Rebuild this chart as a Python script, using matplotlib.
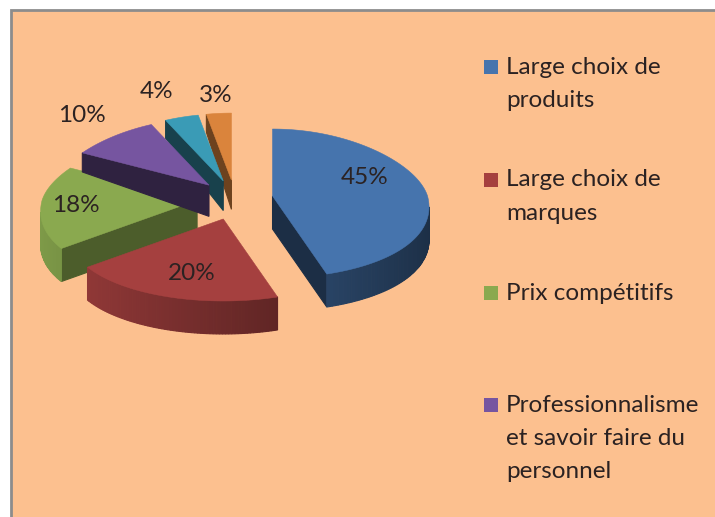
import numpy as np
import matplotlib
matplotlib.use('Agg')
import matplotlib.pyplot as plt
from matplotlib.colors import to_rgb
from matplotlib.patches import Rectangle

plt.rcParams['font.family'] = ['Lato', 'DejaVu Sans']

labels = ['Large choix de\nproduits', 'Large choix de\nmarques', 'Prix compétitifs',
          'Professionnalisme\net savoir faire du\npersonnel']
values = [45, 20, 18, 10, 4, 3]
pct_labels = ['45%', '20%', '18%', '10%', '4%', '3%']
colors = ['#4674AD', '#A5403F', '#8AA94F', '#7655A0', '#3A9BB6', '#DA843C']

bg = '#FCC08F'
text_col = '#2B2222'

# pie geometry, in pixels of the 715x517 picture
cx, cy = 235, 199
rx = 155
ry_front, ry_back = 82, 67
persp = 0.14
ex = 38
ey_front, ey_back = 21, 19
cut_shade = [0.40, 0.50, 0.55, 0.40, 0.42, 0.50]
draw_order = [2, 5, 4, 3, 1, 0]

pct_pos = [(365, 177), (192, 274), (76, 206), (82, 116), (157, 92), (216, 95)]
legend_y = [67, 180, 293, 405]

fig = plt.figure(figsize=(7.15, 5.17), dpi=100, facecolor='white')
ax = fig.add_axes([0, 0, 1, 1])
ax.set_xlim(0, 715)
ax.set_ylim(517, 0)
ax.axis('off')

ax.add_patch(Rectangle((11, 10), 720, 520, facecolor=bg, edgecolor='#8C8C8C', linewidth=2, zorder=0))


def depth(y):
    return np.interp(y, [150, 190], [18, 33])


def shade(col, f):
    return tuple(c * f for c in to_rgb(col))


def rim(theta, ox, oy):
    # point of the squashed circle, theta clockwise from the top
    ry = np.where(np.cos(theta) > 0, ry_back, ry_front)
    return ox + rx * np.sin(theta) * (1 - persp * np.cos(theta)), oy - ry * np.cos(theta)


fracs = np.array(values) / sum(values)
ends = np.cumsum(fracs) * 2 * np.pi
starts = ends - fracs * 2 * np.pi

for z, i in enumerate(draw_order):
    mid = (starts[i] + ends[i]) / 2
    ey = ey_back if np.cos(mid) > 0 else ey_front
    ox = cx + ex * np.sin(mid)
    oy = cy - ey * np.cos(mid)
    th = np.linspace(starts[i], ends[i], max(int(np.degrees(ends[i] - starts[i])), 4))
    xs, ys = rim(th, ox, oy)
    xo = np.r_[ox, xs, ox]
    yo = np.r_[oy, ys, oy]

    # side walls, only those facing the viewer
    quads = []
    for k in range(len(xo) - 1):
        if xo[k + 1] >= xo[k]:
            continue
        is_cut = k == 0 or k == len(xo) - 2
        if is_cut:
            col = shade(colors[i], cut_shade[i])
        else:
            col = shade(colors[i], np.interp(np.sin(th[k]), [-1, 1], [0.92, 0.40]))
        x2 = [xo[k], xo[k + 1], xo[k + 1], xo[k]]
        y2 = [yo[k], yo[k + 1], yo[k + 1] + depth(yo[k + 1]), yo[k] + depth(yo[k])]
        quads.append((np.mean(yo[k:k + 2]), x2, y2, col))
    quads.sort(key=lambda q: q[0])
    for _, x2, y2, col in quads:
        ax.fill(x2, y2, facecolor=col, edgecolor=col, linewidth=0.8, zorder=2 + z)

    ax.fill(xo, yo, facecolor=colors[i], edgecolor=colors[i], linewidth=0.4, zorder=2 + z + 0.5)

for txt, (x, y) in zip(pct_labels, pct_pos):
    ax.text(x, y, txt, fontsize=17.5, color=text_col, ha='center', va='center', zorder=20)

for lab, col, y in zip(labels, colors, legend_y):
    ax.add_patch(Rectangle((484, y - 7), 14, 14, facecolor=col, edgecolor='none', zorder=20))
    for j, line in enumerate(lab.split('\n')):
        ax.text(506, y + j * 33.5, line, fontsize=17.5, color=text_col, ha='left', va='center', zorder=20)

fig.savefig('out.png', dpi=100, facecolor='white')
